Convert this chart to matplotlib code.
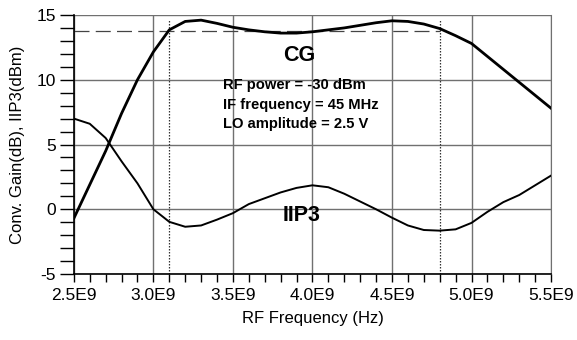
import numpy as np
import matplotlib.pyplot as plt
from matplotlib.ticker import MultipleLocator, FuncFormatter

plt.rcParams['font.family'] = ['Liberation Sans', 'DejaVu Sans']
plt.rcParams['axes.unicode_minus'] = False

# RF frequency in units of 1E9 Hz
freq = [2.5, 2.6, 2.7, 2.8, 2.9, 3.0, 3.1, 3.2, 3.3, 3.4, 3.5, 3.6, 3.7, 3.8, 3.9, 4.0,
        4.1, 4.2, 4.3, 4.4, 4.5, 4.6, 4.7, 4.8, 4.9, 5.0, 5.1, 5.2, 5.3, 5.4, 5.5]
cg = [-0.7, 1.9, 4.5, 7.4, 10.0, 12.15, 13.85, 14.5, 14.6, 14.35, 14.05, 13.85, 13.7, 13.6,
      13.6, 13.7, 13.85, 14.0, 14.2, 14.4, 14.55, 14.5, 14.3, 13.95, 13.4, 12.8, 11.8, 10.8,
      9.8, 8.8, 7.8]
iip3 = [7.0, 6.6, 5.5, 3.7, 2.0, 0.0, -0.97, -1.35, -1.25, -0.8, -0.3, 0.4, 0.85, 1.3,
        1.65, 1.85, 1.7, 1.2, 0.6, 0.0, -0.65, -1.25, -1.6, -1.65, -1.55, -1.05, -0.2, 0.55,
        1.1, 1.85, 2.6]

ref_level = 13.8        # dashed reference line
band_edges = [3.1, 4.8]  # dotted markers
notes = ['RF power = -30 dBm', 'IF frequency = 45 MHz', 'LO amplitude = 2.5 V']

fig = plt.figure(figsize=(5.77, 3.4), dpi=100)
ax = fig.add_axes([0.128, 0.194, 0.827, 0.762])

ax.grid(True, which='major', color='#707070', linewidth=1.0)
ax.set_axisbelow(True)

ax.plot(freq, cg, color='black', linewidth=2.0, zorder=3)
ax.plot(freq, iip3, color='black', linewidth=1.4, zorder=3)

ax.plot([2.5, band_edges[1]], [ref_level, ref_level], color='#444444', linewidth=0.9,
        dashes=(12, 5), zorder=2)
for xe in band_edges:
    ax.plot([xe, xe], [-5, 14.6], color='#333333', linewidth=0.9, linestyle=(0, (1.2, 1.2)), zorder=2)

ax.text(3.915, 11.87, 'CG', fontsize=15.5, fontweight='bold', ha='center', va='center')
ax.text(3.93, -0.46, 'IIP3', fontsize=15.5, fontweight='bold', ha='center', va='center')
for i, s in enumerate(notes):
    ax.text(3.437, 9.56 - i * 1.48, s, fontsize=10.6, fontweight='bold', ha='left', va='center')

ax.set_xlim(2.5, 5.5)
ax.set_ylim(-5, 15)
ax.xaxis.set_major_locator(MultipleLocator(0.5))
ax.xaxis.set_minor_locator(MultipleLocator(0.1))
ax.yaxis.set_major_locator(MultipleLocator(5))
ax.yaxis.set_minor_locator(MultipleLocator(1))
ax.xaxis.set_major_formatter(FuncFormatter(lambda v, p: '%.1fE9' % v))
ax.yaxis.set_major_formatter(FuncFormatter(lambda v, p: '%d' % v))
ax.tick_params(axis='x', which='both', direction='out', length=6, width=1, labelsize=12.5, pad=4)
ax.tick_params(axis='y', which='both', direction='out', length=10, width=1, labelsize=12.5, pad=3)

ax.spines['top'].set_visible(False)
ax.spines['right'].set_color('#707070')
ax.spines['left'].set_linewidth(1.2)
ax.spines['bottom'].set_linewidth(1.2)

ax.set_xlabel('RF Frequency (Hz)', fontsize=12, labelpad=6)
ax.set_ylabel('Conv. Gain(dB), IIP3(dBm)', fontsize=12, labelpad=8)

fig.savefig('out.png', dpi=100)
